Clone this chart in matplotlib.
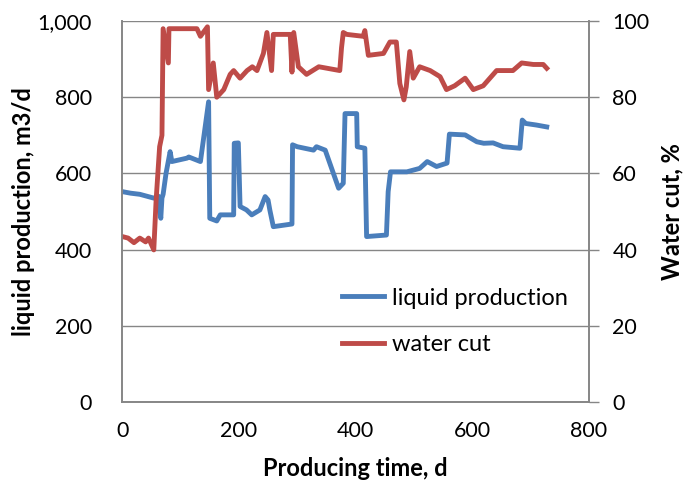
import matplotlib.pyplot as plt
from matplotlib.ticker import FuncFormatter

plt.rcParams['font.family'] = ['Lato', 'DejaVu Sans']

# liquid production, m3/d (left axis)
liq_t = [0, 14, 30, 54, 62, 66, 68, 70, 75, 82, 85, 111, 114, 134, 148, 150, 162, 168,
         191, 192, 199, 202, 213, 222, 236, 245, 250, 253, 259, 291, 292, 300, 328,
         333, 348, 371, 379, 382, 402, 403, 416, 419, 453, 456, 460, 488, 510, 523,
         539, 557, 561, 588, 608, 620, 636, 653, 682, 686, 692, 710, 728]
liq_q = [552, 548, 545, 535, 540, 482, 535, 545, 600, 657, 631, 640, 643, 631, 788, 482,
         475, 491, 491, 679, 680, 513, 504, 491, 504, 539, 530, 504, 460, 467, 675,
         670, 661, 670, 661, 561, 574, 757, 757, 670, 666, 434, 438, 552, 604, 604,
         613, 631, 618, 627, 703, 701, 683, 679, 680, 670, 666, 740, 731, 727, 722]

# water cut, % (right axis)
wc_t = [0, 10, 20, 30, 40, 45, 54, 58, 64, 68, 70, 79, 80, 128, 134, 146, 148, 156, 162,
        174, 185, 191, 202, 214, 223, 231, 242, 248, 256, 259, 288, 291, 294, 302,
        316, 337, 373, 376, 379, 385, 413, 416, 422, 448, 459, 470, 476, 483, 487,
        493, 499, 510, 528, 545, 556, 570, 588, 602, 619, 642, 659, 670, 685, 705,
        722, 728]
wc_v = [43.4, 43, 41.8, 43, 42, 43, 39.9, 53, 67, 70, 98, 89, 98, 98, 96, 98.5, 82, 89,
        80, 82, 86, 87, 85, 87, 88, 87, 91.5, 97, 87, 96.5, 96.5, 86.6, 97, 88, 86,
        88, 87, 93, 97, 96.5, 96, 97.5, 91, 91.5, 94.5, 94.5, 83.6, 79.3, 82.7, 92,
        85, 88, 87, 85.4, 82, 83, 85, 82, 83, 87, 87, 87, 89, 88.6, 88.6, 87.6]

blue = '#4A7EBB'
red = '#BE4B48'
grey = '#868686'

fig, ax = plt.subplots(figsize=(6.91, 4.9), dpi=100)
fig.subplots_adjust(left=0.177, right=0.852, top=0.957, bottom=0.18)
ax2 = ax.twinx()

l1, = ax.plot(liq_t, liq_q, color=blue, linewidth=3.5, label='liquid production')
l2, = ax2.plot(wc_t, wc_v, color=red, linewidth=3.5, label='water cut')

ax.set_xlim(0, 800)
ax.set_ylim(0, 1000)
ax2.set_ylim(0, 100)
ax.set_xticks([0, 200, 400, 600, 800])
ax.set_yticks(range(0, 1001, 200))
ax2.set_yticks(range(0, 101, 20))
ax.yaxis.set_major_formatter(FuncFormatter(lambda v, p: f'{int(v):,}'))

ax.grid(axis='y', color=grey, linewidth=1)
ax.set_axisbelow(True)
for a in (ax, ax2):
    for s in a.spines.values():
        s.set_color(grey)
        s.set_linewidth(1.2)
    a.spines['top'].set_visible(False)

ax.tick_params(axis='x', length=0, labelsize=15.5, pad=14)
ax.tick_params(axis='y', length=0, labelsize=15.5, pad=22)
ax2.tick_params(axis='y', length=7, color=grey, width=1, labelsize=15.5, pad=10)

ax.set_xlabel('Producing time, d', fontsize=17, fontweight='bold', labelpad=11)
ax.set_ylabel('liquid production, m3/d', fontsize=17, fontweight='bold', labelpad=2)
ax2.set_ylabel('Water cut, %', fontsize=17, fontweight='bold', labelpad=8)

ax.legend(handles=[l1, l2], loc='upper left', bbox_to_anchor=(0.471, 0.30),
          frameon=False, fontsize=17, handlelength=1.8, handletextpad=0.3,
          labelspacing=1.08, borderaxespad=0, borderpad=0)

fig.savefig('out.png', dpi=100)
